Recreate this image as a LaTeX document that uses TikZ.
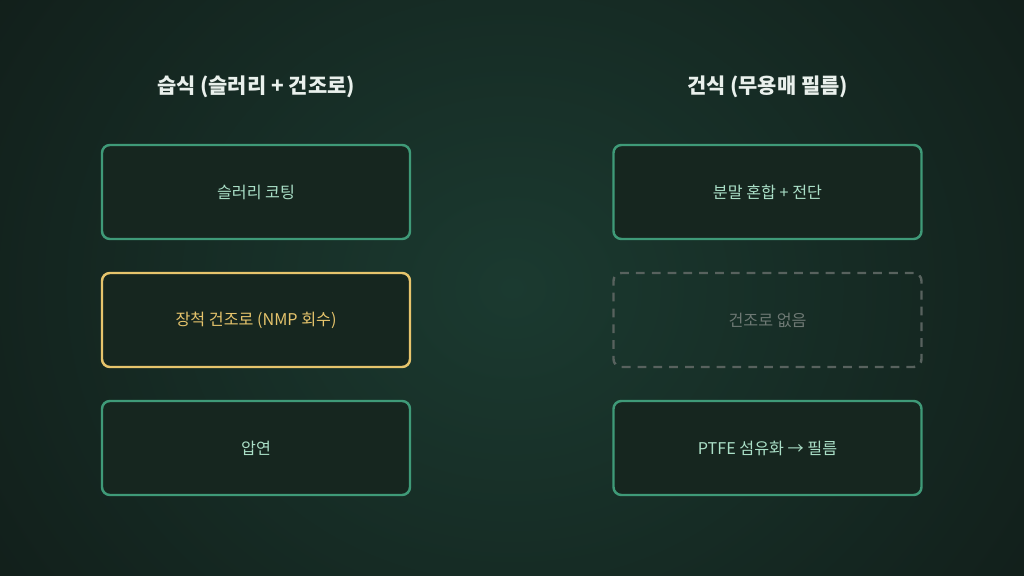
\documentclass[tikz,border=0pt]{standalone}
\usepackage{fontspec}
\setmainfont{Noto Sans CJK KR}
\usetikzlibrary{positioning}
\definecolor{bgin}{HTML}{1B3A30}
\definecolor{bgout}{HTML}{111D19}
\definecolor{boxfill}{HTML}{16261F}
\definecolor{greenline}{HTML}{3F9A78}
\definecolor{goldline}{HTML}{E6C46C}
\definecolor{greyline}{HTML}{58625E}
\definecolor{greentext}{HTML}{AADFC7}
\definecolor{greytext}{HTML}{6E7974}
\definecolor{titletext}{HTML}{E9F0EC}

\begin{document}
\begin{tikzpicture}[
  stepbox/.style={draw=greenline, line width=1.4pt, rounded corners=4.5pt, fill=boxfill,
    minimum width=6.16cm, minimum height=1.88cm, text=greentext, font=\fontsize{9.2}{11}\selectfont},
  hotbox/.style={stepbox, draw=goldline, text=goldline},
  nobox/.style={stepbox, draw=greyline, dashed, dash pattern=on 5pt off 4pt, text=greytext, fill=none},
  coltitle/.style={text=titletext, font=\fontsize{11.9}{14}\selectfont\bfseries}]
  \useasboundingbox (0,0) rectangle (20.48,11.52);
  \shade[inner color=bgin, outer color=bgout] (-3,-6) rectangle (23.48,17.52);
  \node[coltitle] at (5.12,9.78) (wet) {습식 (슬러리 + 건조로)};
  \node[coltitle] at (15.35,9.78) (dry) {건식 (무용매 필름)};
  % wet side
  \node[stepbox] at (5.12,7.68) (slurry) {슬러리 코팅};
  \node[hotbox] at (5.12,5.12) (oven) {장척 건조로 (NMP 회수)};
  \node[stepbox] at (5.12,2.56) (press) {압연};
  % dry side
  \node[stepbox] at (15.35,7.68) (mix) {분말 혼합 + 전단};
  \node[nobox] at (15.35,5.12) (nooven) {건조로 없음};
  \node[stepbox] at (15.35,2.56) (film) {PTFE 섬유화 → 필름};
\end{tikzpicture}
\end{document}
